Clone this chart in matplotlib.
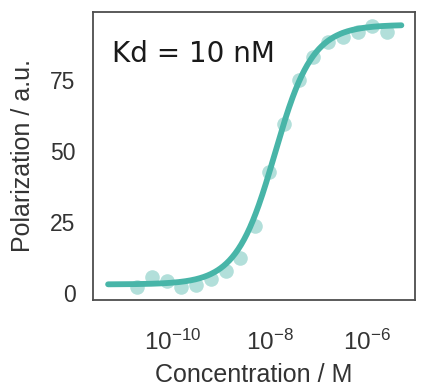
import numpy as np
import matplotlib
matplotlib.use("Agg")
import matplotlib.pyplot as plt
import seaborn as sns

# Titration series: 2-fold dilutions (log10 molar concentrations)
log_conc = [-5.60, -5.90, -6.20, -6.50, -6.81, -7.11, -7.41, -7.71,
            -8.01, -8.31, -8.61, -8.91, -9.21, -9.51, -9.82, -10.12,
            -10.42, -10.72]
polarization = [91.9, 94.0, 91.9, 90.1, 88.4, 83.1, 75.0, 59.5,
                42.6, 23.5, 12.3, 7.7, 4.9, 2.8, 2.1, 4.2,
                5.6, 2.1]

# Fit parameters (quadratic binding model with probe depletion)
kd = 10e-9
probe = 5e-9
p_bottom = 3.0
p_top = 94.5
fit_log_range = (-11.32, -5.30)

y_ticks = [0, 25, 50, 75]
x_ticks = [1e-10, 1e-8, 1e-6]

sns.set_theme(style="white", context="talk")
plt.rcParams["font.family"] = ["Liberation Sans", "DejaVu Sans"]
plt.rcParams["mathtext.fontset"] = "custom"
plt.rcParams["mathtext.rm"] = "Liberation Sans"
plt.rcParams["mathtext.it"] = "Liberation Sans:italic"
plt.rcParams["mathtext.bf"] = "Liberation Sans:bold"

color = "#48B5A8"

conc = 10.0 ** np.array(log_conc)
x_fit = np.logspace(fit_log_range[0], fit_log_range[1], 400)
s = x_fit + probe + kd
frac = (s - np.sqrt(s ** 2 - 4 * x_fit * probe)) / (2 * probe)
y_fit = p_bottom + (p_top - p_bottom) * frac

fig = plt.figure(figsize=(4.24, 3.91), dpi=100)
ax = fig.add_axes([93 / 424, 1 - 300 / 391, 322 / 424, 288 / 391])

ax.plot(conc, polarization, "o", color=color, alpha=0.42, markersize=10.5,
        markeredgewidth=0, zorder=2)
ax.plot(x_fit, y_fit, "-", color=color, linewidth=4.2,
        solid_capstyle="round", zorder=3)

ax.set_xscale("log")
ax.set_xlim(10 ** -11.63, 10 ** -5.02)
ax.set_ylim(-2.5, 99)
ax.set_xticks(x_ticks)
ax.xaxis.set_minor_locator(matplotlib.ticker.NullLocator())
ax.set_yticks(y_ticks)

for sp in ax.spines.values():
    sp.set_color("0.3")
    sp.set_linewidth(1.3)

ax.tick_params(colors="0.2", labelsize=16.5)
ax.tick_params(axis="x", labelsize=17.5, pad=12.5)
ax.set_xlabel("Concentration / M", fontsize=18, color="0.2", labelpad=6)
ax.set_ylabel("Polarization / a.u.", fontsize=18, color="0.2", labelpad=11)

ax.text(0.059, 0.826, "Kd = 10 nM", transform=ax.transAxes,
        fontsize=20, family="DejaVu Sans", color="0.1", va="baseline")

fig.savefig("out.png", dpi=100)
